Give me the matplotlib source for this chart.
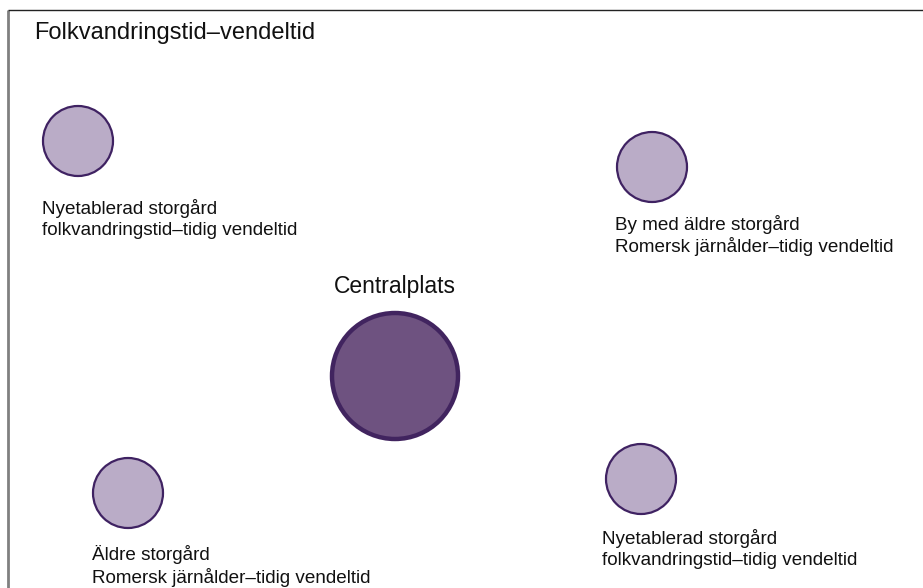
import matplotlib.pyplot as plt
from matplotlib.patches import Circle

plt.rcParams['font.family'] = ['Liberation Sans', 'DejaVu Sans']

# node data (pixel layout of the original diagram)
names = ['Centralplats',
         'Nyetablerad storgård\nfolkvandringstid–tidig vendeltid',
         'By med äldre storgård\nRomersk järnålder–tidig vendeltid',
         'Äldre storgård\nRomersk järnålder–tidig vendeltid',
         'Nyetablerad storgård\nfolkvandringstid–tidig vendeltid']
node_x = [395, 78, 652, 128, 641]
node_y = [376, 141, 167, 493, 479]
node_r = [65, 36, 36, 36, 36]
# where each label's first line sits
label_x = [395, 42, 615, 92, 602]
label_y = [286, 208, 223, 554, 538]
title = 'Folkvandringstid–vendeltid'

W, H = 923, 588
fig = plt.figure(figsize=(W / 100, H / 100), dpi=100)
ax = fig.add_axes([0, 0, 1, 1])
ax.set_xlim(0, W)
ax.set_ylim(H, 0)
ax.set_aspect('equal')
ax.axis('off')

# frame: grey left edge, dark top edge
ax.plot([7.5, 7.5], [10, H], color='#808080', lw=2, solid_capstyle='butt')
ax.plot([7.5, W], [10, 10], color='#222222', lw=1, solid_capstyle='butt')

ax.text(34, 33, title, fontsize=17, va='center', ha='left', color='#111111')

for i, (name, x, y, r) in enumerate(zip(names, node_x, node_y, node_r)):
    if i == 0:
        ax.add_patch(Circle((x, y), r - 2, facecolor='#6E5280', edgecolor='#41245F', lw=3.2))
        ax.text(label_x[i], label_y[i], name, fontsize=16.5, ha='center', va='center',
                color='#111111')
    else:
        ax.add_patch(Circle((x, y), r - 1, facecolor='#BAACC7', edgecolor='#3F2262', lw=1.6))
        ax.text(label_x[i], label_y[i] - 8.5, name, fontsize=13.6, ha='left', va='top',
                linespacing=1.25, color='#111111')

fig.savefig('out.png', dpi=100)
